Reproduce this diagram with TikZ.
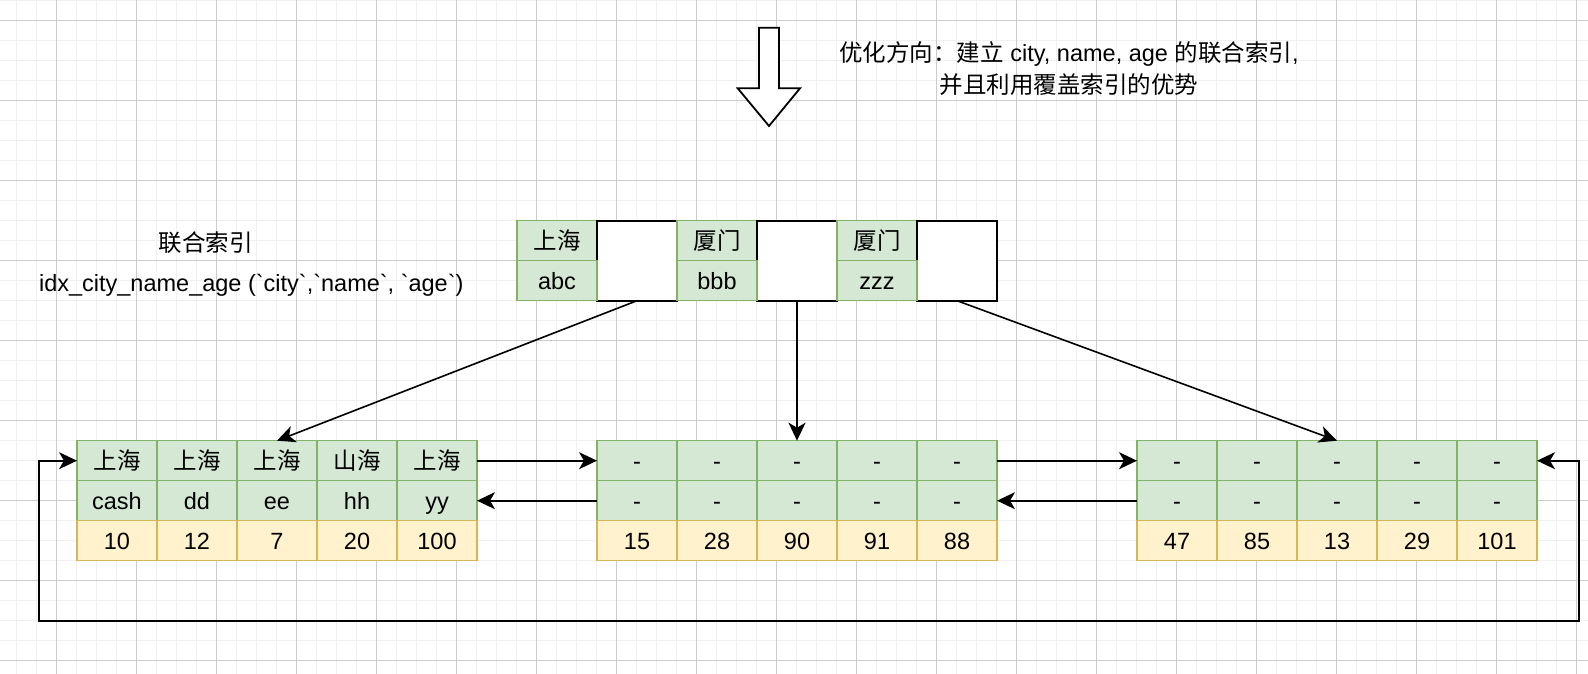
\documentclass[tikz,border=0pt]{standalone}
\usepackage{fontspec}
\setmainfont{Liberation Sans}
\newfontfamily\plainsans{Liberation Sans}
\newfontfamily\cjk{Noto Sans CJK SC}
\usetikzlibrary{arrows.meta}
\definecolor{gfill}{HTML}{D5E8D4}
\definecolor{gline}{HTML}{82B366}
\definecolor{yfill}{HTML}{FFF2CC}
\definecolor{yline}{HTML}{D6B656}
\definecolor{gridminor}{HTML}{F0F0F0}
\definecolor{gridmajor}{HTML}{CCCCCC}
\newcommand\celltxt{\fontsize{23.5}{28}\selectfont}
\tikzset{
  cellg/.style={draw=gline, fill=gfill, line width=1.3pt, minimum width=80pt, minimum height=40pt, inner sep=0pt, outer sep=0pt, font=\celltxt, text height=17pt, text depth=0pt},
  celly/.style={cellg, draw=yline, fill=yfill},
  ptrbox/.style={draw=black, fill=white, line width=1.6pt, minimum width=80pt, minimum height=80pt, inner sep=0pt, outer sep=0pt},
  conn/.style={line width=1.6pt, -{Stealth[length=18pt,width=17pt,inset=5pt]}},
  loopconn/.style={line width=1.6pt, {Stealth[length=18pt,width=17pt,inset=5pt]}-{Stealth[length=18pt,width=17pt,inset=5pt]}},
  lbl/.style={font=\celltxt, inner sep=0pt, text height=17pt, text depth=0pt}
}
\begin{document}
\begin{tikzpicture}[x=1pt,y=-1pt]
\useasboundingbox (0,0) rectangle (1588,674);
\fill[white] (0,0) rectangle (1588,674);
% background grid
\foreach \x in {16.7,36.7,...,1588} \draw[gridminor, line width=1.2pt] (\x,0) -- (\x,674);
\foreach \y in {0.3,20.3,...,674} \draw[gridminor, line width=1.2pt] (0,\y) -- (1588,\y);
\foreach \x in {56.7,136.7,...,1588} \draw[gridmajor, line width=1pt] (\x,0) -- (\x,674);
\foreach \y in {20.3,100.3,...,674} \draw[gridmajor, line width=1pt] (0,\y) -- (1588,\y);

% hollow arrow
\draw[line width=1.8pt, fill=white, line join=miter] (759,27.7) -- (779,27.7) -- (779,88.3) -- (800,88.3) -- (769,126) -- (737.7,88.3) -- (759,88.3) -- cycle;

% note
\node[align=center, font=\fontsize{23.5}{32}\selectfont, inner sep=0pt] (note) at (1069,69)
  {{\cjk 优化方向：建立} city, name, age {\cjk 的联合索引},\\{\cjk 并且利用覆盖索引的优势}};

% labels
\node[lbl] (lbl1) at (205.5,243) {\cjk 联合索引};
\node[lbl] (lbl2) at (251.3,283) {\plainsans idx\_city\_name\_age (`city`,`name`, `age`)};

% top node
\node[cellg] (T1a) at (557,240.7) {\cjk 上海};
\node[ptrbox] (W1) at (637,260.7) {};
\node[cellg] (T1b) at (557,280.7) {abc};
\node[cellg] (T2a) at (717,240.7) {\cjk 厦门};
\node[ptrbox] (W2) at (797,260.7) {};
\node[cellg] (T2b) at (717,280.7) {bbb};
\node[cellg] (T3a) at (877,240.7) {\cjk 厦门};
\node[ptrbox] (W3) at (957,260.7) {};
\node[cellg] (T3b) at (877,280.7) {zzz};

% left leaf
\foreach \t [count=\i] in {上海,上海,上海,山海,上海}
  \node[cellg] (L1\i) at ({37+80*\i},460.7) {\cjk \t};
\foreach \t [count=\i] in {cash,dd,ee,hh,yy}
  \node[cellg] (L2\i) at ({37+80*\i},500.7) {\t};
\foreach \t [count=\i] in {10,12,7,20,100}
  \node[celly] (L3\i) at ({37+80*\i},540.7) {\t};

% middle leaf
\foreach \i in {1,...,5} {
  \node[cellg] (M1\i) at ({557+80*\i},460.7) {-};
  \node[cellg] (M2\i) at ({557+80*\i},500.7) {-};
}
\foreach \t [count=\i] in {15,28,90,91,88}
  \node[celly] (M3\i) at ({557+80*\i},540.7) {\t};

% right leaf
\foreach \i in {1,...,5} {
  \node[cellg] (R1\i) at ({1097+80*\i},460.7) {-};
  \node[cellg] (R2\i) at ({1097+80*\i},500.7) {-};
}
\foreach \t [count=\i] in {47,85,13,29,101}
  \node[celly] (R3\i) at ({1097+80*\i},540.7) {\t};

% connectors
\draw[conn] (W1.south) -- (L13.north);
\draw[conn] (W2.south) -- (M13.north);
\draw[conn] (W3.south) -- (R13.north);
\draw[conn] (L15.east) -- (M11.west);
\draw[conn] (M21.west) -- (L25.east);
\draw[conn] (M15.east) -- (R11.west);
\draw[conn] (R21.west) -- (M25.east);
\coordinate (lb) at (39,621);
\coordinate (rb) at (1578.7,621);
\draw[loopconn] (L11.west) -| (lb) -- (rb) |- (R15.east);
\end{tikzpicture}
\end{document}
